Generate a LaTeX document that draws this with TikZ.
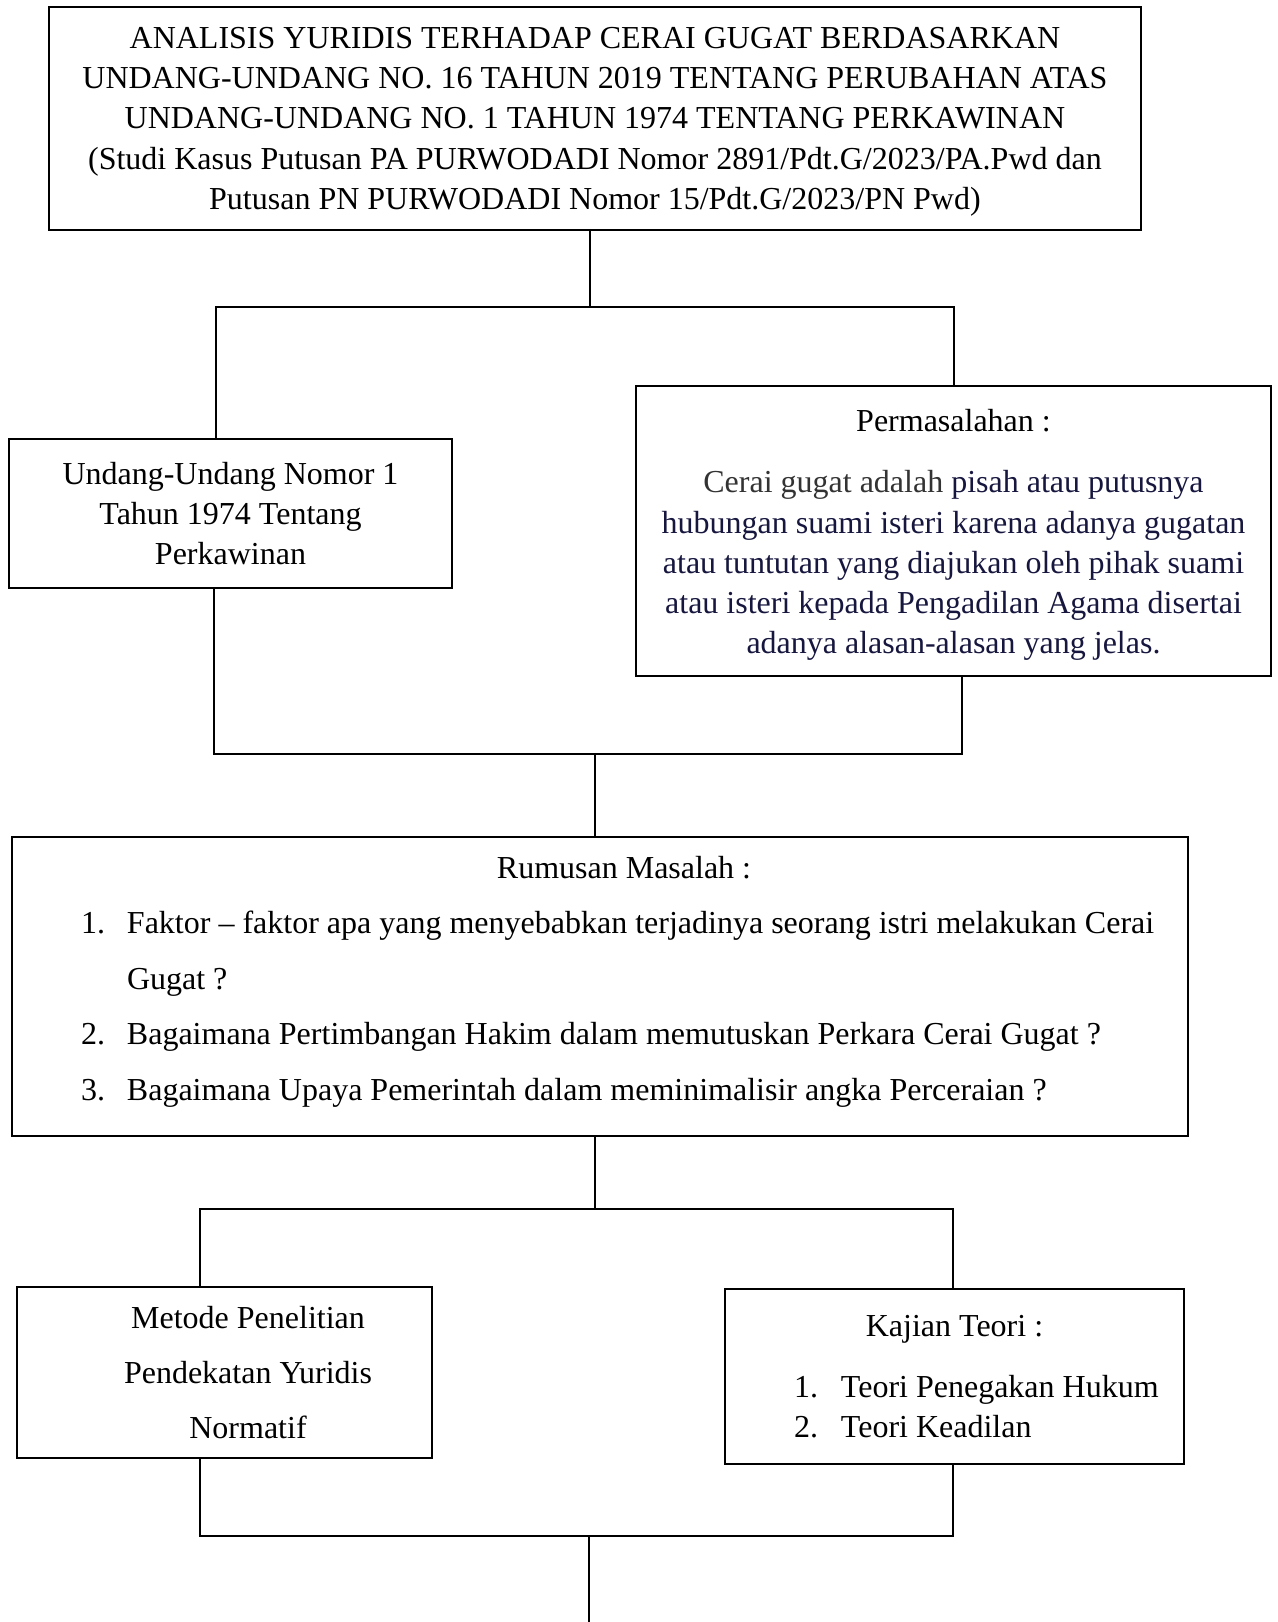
\documentclass[tikz,border=0pt]{standalone}
\usepackage{fontspec}
\setmainfont{Liberation Serif}
\usetikzlibrary{positioning}
\definecolor{grayink}{HTML}{333333}
\definecolor{navyink}{HTML}{16163E}

\begin{document}
\begin{tikzpicture}[x=0.5pt, y=-0.5pt, line width=0.7pt,
	box/.style={draw, rectangle, align=center, inner sep=0pt, font=\fontsize{16}{20.1}\selectfont}]

	\useasboundingbox (0,0) rectangle (1278,1622);

	% Nodes
	\node [box, minimum width=546pt, minimum height=111.5pt] (judul) at (595,118.5) {\rule{0pt}{13.8pt}ANALISIS YURIDIS TERHADAP CERAI GUGAT BERDASARKAN\\UNDANG-UNDANG NO. 16 TAHUN 2019 TENTANG PERUBAHAN ATAS\\UNDANG-UNDANG NO. 1 TAHUN 1974 TENTANG PERKAWINAN\\(Studi Kasus Putusan PA PURWODADI Nomor 2891/Pdt.G/2023/PA.Pwd dan\\Putusan PN PURWODADI Nomor 15/Pdt.G/2023/PN Pwd)};
	\node [box, minimum width=221.5pt, minimum height=74.5pt] (uu) at (230.5,513.5) {Undang-Undang Nomor 1\\Tahun 1974 Tentang\\Perkawinan};
	\node [box, minimum width=317.5pt, minimum height=145pt] (masalah) at (953.5,531) {\rule{0pt}{15.2pt}Permasalahan :\\[10.4pt]
		{\color{grayink}Cerai gugat adalah} {\color{navyink}pisah atau putusnya}\\
		{\color{navyink}hubungan suami isteri karena adanya gugatan}\\
		{\color{navyink}atau tuntutan yang diajukan oleh pihak suami}\\
		{\color{navyink}atau isteri kepada Pengadilan Agama disertai}\\
		{\color{navyink}adanya alasan-alasan yang jelas.}};
	\node [box, minimum width=588pt, minimum height=149.5pt] (rumusan) at (600,986.5) {\makebox[519pt]{\hspace{24pt}Rumusan Masalah :}\\[7.65pt]
		\makebox[519pt][l]{\makebox[23pt][l]{1.}Faktor -- faktor apa yang menyebabkan terjadinya seorang istri melakukan Cerai}\\[7.65pt]
		\makebox[519pt][l]{\hspace*{23pt}Gugat ?}\\[7.65pt]
		\makebox[519pt][l]{\makebox[23pt][l]{2.}Bagaimana Pertimbangan Hakim dalam memutuskan Perkara Cerai Gugat ?}\\[7.65pt]
		\makebox[519pt][l]{\makebox[23pt][l]{3.}Bagaimana Upaya Pemerintah dalam meminimalisir angka Perceraian ?}\rule[-8.5pt]{0pt}{0pt}};
	\node [box, minimum width=207.5pt, minimum height=85.5pt] (metode) at (224.5,1372.5) {\hspace*{23.5pt}Metode Penelitian\\[7.4pt]\hspace*{23.5pt}Pendekatan Yuridis\\[7.4pt]\hspace*{23.5pt}Normatif};
	\node [box, minimum width=229.5pt, minimum height=87.5pt] (kajian) at (954.5,1376.5) {Kajian Teori :\\[10.4pt]
		\makebox[160.5pt][l]{\makebox[23.5pt][l]{1.}Teori Penegakan Hukum}\\
		\makebox[160.5pt][l]{\makebox[23.5pt][l]{2.}Teori Keadilan}};

	% Junctions
	\coordinate (b1) at (590,307);
	\coordinate (b1l) at (216,307);
	\coordinate (b1r) at (954,307);
	\coordinate (b2) at (595,754);
	\coordinate (b2l) at (214,754);
	\coordinate (b2r) at (962,754);
	\coordinate (b3) at (595,1209);
	\coordinate (b3l) at (200,1209);
	\coordinate (b3r) at (953,1209);
	\coordinate (b4) at (589,1536);
	\coordinate (b4l) at (200,1536);
	\coordinate (b4r) at (953,1536);
	\coordinate (ujung) at (589,1622);

	% Lines
	\draw (judul.south -| b1) -- (b1);
	\draw (uu.north -| b1l) -- (b1l) -- (b1r) -- (masalah.north -| b1r);
	\draw (uu.south -| b2l) -- (b2l) -- (b2r) -- (masalah.south -| b2r);
	\draw (b2) -- (rumusan.north -| b2);
	\draw (rumusan.south -| b3) -- (b3);
	\draw (metode.north -| b3l) -- (b3l) -- (b3r) -- (kajian.north -| b3r);
	\draw (metode.south -| b4l) -- (b4l) -- (b4r) -- (kajian.south -| b4r);
	\draw (b4) -- (ujung);

\end{tikzpicture}
\end{document}
